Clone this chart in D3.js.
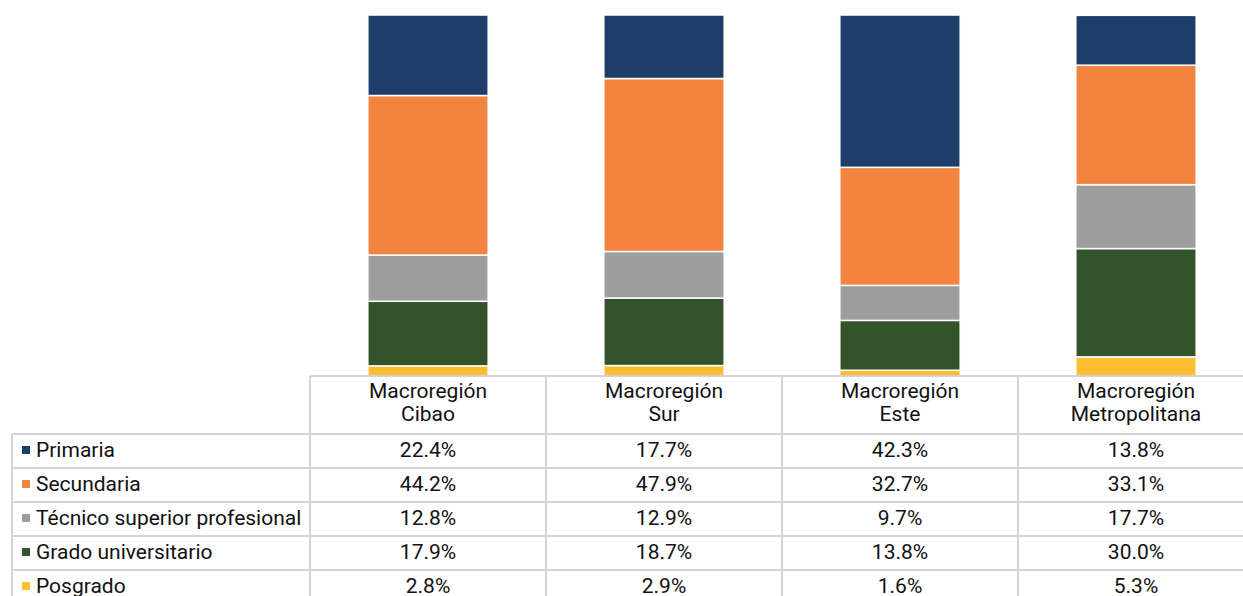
<!DOCTYPE html>
<html>
<head>
<meta charset="utf-8">
<script src="https://cdn.jsdelivr.net/npm/d3@7"></script>
<style>
  body { margin: 0; background: #fff; }
  text { font-family: Roboto, "Liberation Sans", sans-serif; fill: #111; }
</style>
</head>
<body>
<div id="chart"></div>
<script>
// Data
const regions = ["Macroregión Cibao", "Macroregión Sur", "Macroregión Este", "Macroregión Metropolitana"];
const levels = ["Primaria", "Secundaria", "Técnico superior profesional", "Grado universitario", "Posgrado"];
const primaria = [22.4, 17.7, 42.3, 13.8];
const secundaria = [44.2, 47.9, 32.7, 33.1];
const tecnico = [12.8, 12.9, 9.7, 17.7];
const grado = [17.9, 18.7, 13.8, 30.0];
const posgrado = [2.8, 2.9, 1.6, 5.3];
const colors = ["#1e3d6a", "#f2843f", "#9d9d9d", "#33532a", "#fdbd2e"];

const series = [primaria, secundaria, tecnico, grado, posgrado];

const width = 1243, height = 596;
const tableLeft = 12, labelCol = 310, plotTop = 15, plotBottom = 376;
const headerH = 58, rowH = 34;
const fontSize = "21px";

const svg = d3.select("#chart").append("svg")
  .attr("width", width)
  .attr("height", height);

// Build rows for stacking
const rows = regions.map((r, i) => {
  const o = {region: r};
  levels.forEach((l, j) => { o[l] = series[j][i]; });
  return o;
});

// Posgrado at bottom, Primaria at top
const stack = d3.stack().keys(levels.slice().reverse());
const stacked = stack(rows);

const x = d3.scaleBand()
  .domain(regions)
  .range([labelCol, labelCol + 236 * regions.length])
  .paddingInner(0.49)
  .paddingOuter(0.245);

const y = d3.scaleLinear()
  .domain([0, 100])
  .range([plotBottom, plotTop]);

const color = d3.scaleOrdinal().domain(levels).range(colors);

svg.append("g")
  .selectAll("g")
  .data(stacked)
  .enter().append("g")
  .attr("fill", d => color(d.key))
  .selectAll("rect")
  .data(d => d)
  .enter().append("rect")
  .attr("x", d => x(d.data.region))
  .attr("y", d => y(Math.min(d[1], 100)))
  .attr("width", x.bandwidth())
  .attr("height", d => y(d[0]) - y(Math.min(d[1], 100)))
  .attr("stroke", "#fff")
  .attr("stroke-width", 1.5);

// Data table
const colW = 236;
const grid = svg.append("g")
  .attr("stroke", "#d4d4d4")
  .attr("stroke-width", 2)
  .attr("fill", "none");

const tableTop = plotBottom;
const bodyTop = tableTop + headerH;

// horizontal lines
grid.append("line")
  .attr("x1", labelCol).attr("x2", width)
  .attr("y1", tableTop).attr("y2", tableTop);
levels.forEach((l, i) => {
  const yy = bodyTop + i * rowH;
  grid.append("line")
    .attr("x1", tableLeft).attr("x2", width)
    .attr("y1", yy).attr("y2", yy);
});
// vertical lines
grid.append("line")
  .attr("x1", tableLeft).attr("x2", tableLeft)
  .attr("y1", bodyTop).attr("y2", height);
regions.forEach((r, i) => {
  const xx = labelCol + i * colW;
  grid.append("line")
    .attr("x1", xx).attr("x2", xx)
    .attr("y1", tableTop).attr("y2", height);
});

// header labels
regions.forEach((r, i) => {
  const cx = labelCol + i * colW + colW / 2;
  const parts = r.split(" ");
  const t = svg.append("text")
    .attr("text-anchor", "middle")
    .style("font-size", fontSize);
  parts.forEach((p, k) => {
    t.append("tspan")
      .attr("x", cx)
      .attr("y", tableTop + 22 + k * 23)
      .text(p);
  });
});

// legend column + values
levels.forEach((l, j) => {
  const cy = bodyTop + j * rowH + rowH / 2;
  svg.append("rect")
    .attr("x", 22).attr("y", cy - 5)
    .attr("width", 8).attr("height", 8)
    .attr("fill", color(l));
  svg.append("text")
    .attr("x", 36).attr("y", cy)
    .attr("dy", "0.28em")
    .style("font-size", fontSize)
    .text(l);
  regions.forEach((r, i) => {
    svg.append("text")
      .attr("x", labelCol + i * colW + colW / 2)
      .attr("y", cy)
      .attr("dy", "0.28em")
      .attr("text-anchor", "middle")
      .style("font-size", fontSize)
      .text(series[j][i].toFixed(1) + "%");
  });
});
</script>
</body>
</html>
